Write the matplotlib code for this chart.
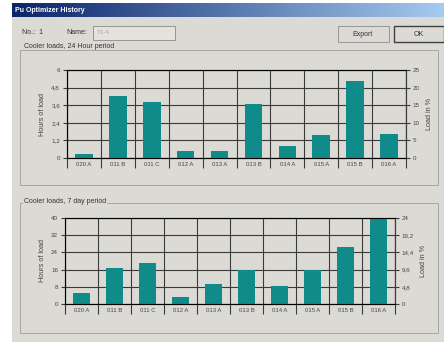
import matplotlib.pyplot as plt
import matplotlib.patches as mpatches
import numpy as np

W, H = 444, 342

units = ['020 A', '011 B', '011 C', '012 A', '013 A', '013 B', '014 A', '015 A', '015 B', '016 A']
hours_24h = [0.3, 4.25, 3.85, 0.5, 0.5, 3.7, 0.8, 1.6, 5.25, 1.65]
hours_7d = [4.9, 16.8, 18.9, 3.1, 9.2, 15.8, 8.3, 16.0, 26.3, 40.0]

left_ticks_24h = ['0', '1,2', '2,4', '3,6', '4,8', '6']
right_ticks_24h = ['0', '5', '10', '15', '20', '25']
left_ticks_7d = ['0', '8', '16', '24', '32', '40']
right_ticks_7d = ['0', '4,8', '9,6', '14,4', '19,2', '24']

GRAY = '#dcdad4'
TEAL = '#0f8c8a'
plt.rcParams['font.family'] = ['Liberation Sans', 'DejaVu Sans']

fig = plt.figure(figsize=(W / 100, H / 100), dpi=100)
fig.patch.set_facecolor('white')


def box(x, y, w, h):
    # pixel box (top-left origin) -> figure coords
    return [x / W, 1 - (y + h) / H, w / W, h / H]


def rect(x, y, w, h, z=-1, **kw):
    b = box(x, y, w, h)
    fig.patches.append(mpatches.Rectangle((b[0], b[1]), b[2], b[3],
                                          transform=fig.transFigure, zorder=z, **kw))


def text(x, y, s, **kw):
    fig.text(x / W, 1 - y / H, s, **kw)


# window chrome
rect(12, 3, 432, 339, z=-2, facecolor=GRAY, edgecolor='none')
grad = fig.add_axes(box(12, 3, 432, 14))
grad.imshow(np.linspace(0, 1, 256)[None, :], aspect='auto',
            cmap=plt.matplotlib.colors.LinearSegmentedColormap.from_list('t', ['#0a246a', '#a6caf0']))
grad.axis('off')
text(15, 10, 'Pu Optimizer History', color='white', fontsize=5, fontweight='bold', va='center')

text(22, 33, 'No.:  1', fontsize=5, va='center', color='#333333')
text(66, 33, 'Name:', fontsize=5, va='center', color='#333333')
rect(93, 26, 82, 14, facecolor='#e4e2dc', edgecolor='#8a8a8a', lw=0.6)
text(97, 33, 'T1-4', fontsize=4.5, va='center', color='#a8a8a8')

rect(338, 26, 51, 16, facecolor=GRAY, edgecolor='#8c8c8c', lw=0.6)
text(363, 34, 'Export', fontsize=5, va='center', ha='center', color='#333333')
rect(394, 26, 50, 16, facecolor=GRAY, edgecolor='#404040', lw=1.0)
text(419, 34, 'OK', fontsize=5, va='center', ha='center', color='#333333')

rect(20, 50, 418, 135, facecolor='none', edgecolor='#a8a6a0', lw=0.7)
rect(20, 203, 418, 130, facecolor='none', edgecolor='#a8a6a0', lw=0.7)
text(24, 46, 'Cooler loads, 24 Hour period', fontsize=5, va='center', color='#333333',
     bbox=dict(facecolor=GRAY, edgecolor='none', pad=0.5))
text(24, 201, 'Cooler loads, 7 day period', fontsize=5, va='center', color='#333333',
     bbox=dict(facecolor=GRAY, edgecolor='none', pad=0.5))


def chart(rectpx, values, ymax, rmax, lticks, rticks):
    ax = fig.add_axes(box(*rectpx))
    ax.set_facecolor(GRAY)
    x = np.arange(len(units))
    ax.bar(x, values, width=0.52, color=TEAL, zorder=3)
    ax.set_xlim(-0.5, len(units) - 0.5)
    ax.set_ylim(0, ymax)
    ax.set_yticks(np.linspace(0, ymax, 6))
    ax.set_yticklabels(lticks, fontsize=4.5, color='#444444')
    ax.set_xticks(x)
    ax.set_xticklabels(units, fontsize=4.3, color='#444444')
    ax.set_xticks(np.arange(-0.5, len(units)), minor=True)
    ax.tick_params(axis='x', which='major', length=0, pad=3)
    ax.tick_params(axis='x', which='minor', length=7, width=0.8, color='#3a3a3a')
    ax.tick_params(axis='y', length=3, width=0.8, color='#3a3a3a', pad=2)
    ax.grid(axis='y', which='major', color='#3a3a3a', lw=0.8, zorder=1)
    ax.grid(axis='x', which='minor', color='#3a3a3a', lw=0.8, zorder=1)
    for s in ax.spines.values():
        s.set_color('#3a3a3a')
        s.set_linewidth(0.8)
    ax.set_ylabel('Hours of load', fontsize=5.2, color='#444444', labelpad=4)
    ax2 = ax.twinx()
    ax2.set_ylim(0, rmax)
    ax2.set_yticks(np.linspace(0, rmax, 6))
    ax2.set_yticklabels(rticks, fontsize=4.5, color='#444444')
    ax2.tick_params(axis='y', length=3, width=0.8, color='#3a3a3a', pad=2)
    ax2.spines['right'].set_color('#3a3a3a')
    ax2.set_ylabel('Load in %', fontsize=5.2, color='#444444', labelpad=4)
    return ax


chart((67, 70, 339, 88), hours_24h, 6, 25, left_ticks_24h, right_ticks_24h)
chart((65, 218, 330, 86), hours_7d, 40, 24, left_ticks_7d, right_ticks_7d)

fig.savefig('out.png', dpi=100, facecolor=fig.get_facecolor())
